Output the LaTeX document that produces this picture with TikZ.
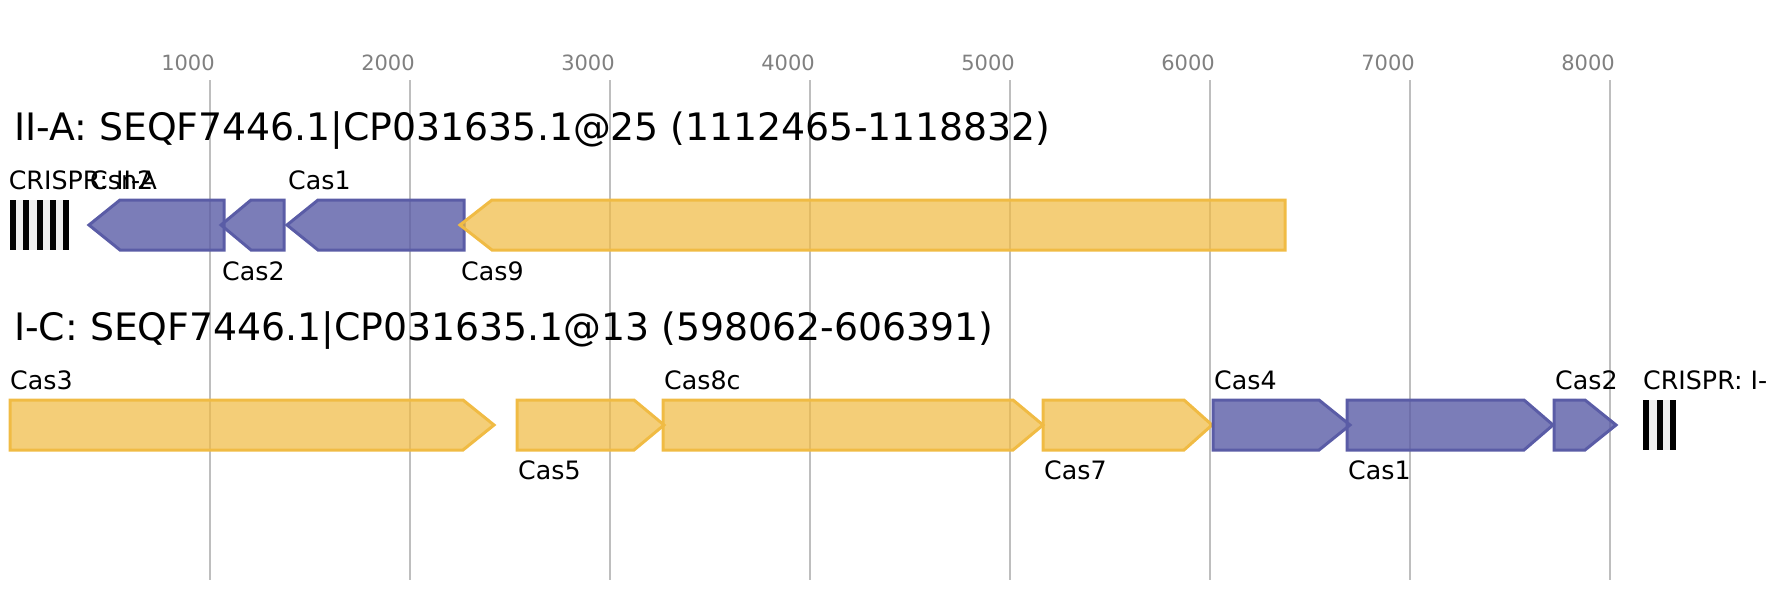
\documentclass[tikz,border=0pt]{standalone}
\usepackage{fontspec}
\setmainfont{DejaVu Sans}
\definecolor{casblue}{RGB}{90,92,166}
\definecolor{casyellow}{RGB}{240,187,68}
\definecolor{gridgrey}{RGB}{190,190,190}
\definecolor{spacergrey}{RGB}{236,236,236}
\tikzset{
  gridline/.style={draw=gridgrey, line width=1.6pt},
  axislabel/.style={anchor=base, inner sep=0pt, text=gray, font=\fontsize{21}{25}\selectfont},
  locustitle/.style={anchor=base west, inner sep=0pt, font=\fontsize{37.8}{45}\selectfont},
  genelabel/.style={anchor=base west, inner sep=0pt, font=\fontsize{25.3}{30}\selectfont},
  genebox/.style={line width=3pt, line join=miter},
  bluegene/.style={genebox, draw=casblue, fill=casblue, fill opacity=0.8},
  yellowgene/.style={genebox, draw=casyellow, fill=casyellow, fill opacity=0.72},
  repeatbar/.style={fill=black}
}

\begin{document}
\begin{tikzpicture}[x=1pt, y=-1pt]
\useasboundingbox (0,0) rectangle (1766,600);

% position axis
\foreach \k in {1,...,8}{
  \draw[gridline] (10+200*\k,80) -- (10+200*\k,580);
  \node[axislabel] (tick\k) at (200*\k-12,70) {\k000};
}

% II-A locus
\node[locustitle] (titleIIA) at (14,140) {II-A: SEQF7446.1|CP031635.1@25 (1112465-1118832)};
\fill[spacergrey] (10,200) rectangle (69.3,250);
\foreach \i in {0,...,4}
  \fill[repeatbar] (10+13.33*\i,200) rectangle ++(6,50);
\draw[bluegene] (89,225) -- (120,200) -- (224,200) -- (224,250) -- (120,250) -- cycle;
\draw[bluegene] (221,225) -- (251,200) -- (284,200) -- (284,250) -- (251,250) -- cycle;
\draw[bluegene] (287,225) -- (318,200) -- (464,200) -- (464,250) -- (318,250) -- cycle;
\draw[yellowgene] (460,225) -- (492,200) -- (1285,200) -- (1285,250) -- (492,250) -- cycle;
\node[genelabel] (crisprIIA) at (8.6,189) {CRISPR: II-A};
\node[genelabel] (csn2) at (90,189) {Csn2};
\node[genelabel] (cas2a) at (222,280) {Cas2};
\node[genelabel] (cas1a) at (288,189) {Cas1};
\node[genelabel] (cas9) at (461,280) {Cas9};

% I-C locus
\node[locustitle] (titleIC) at (14,340) {I-C: SEQF7446.1|CP031635.1@13 (598062-606391)};
\draw[yellowgene] (10,400) -- (463,400) -- (494,425) -- (463,450) -- (10,450) -- cycle;
\draw[yellowgene] (517,400) -- (634,400) -- (664,425) -- (634,450) -- (517,450) -- cycle;
\draw[yellowgene] (663,400) -- (1013,400) -- (1043,425) -- (1013,450) -- (663,450) -- cycle;
\draw[yellowgene] (1043,400) -- (1184,400) -- (1212,425) -- (1184,450) -- (1043,450) -- cycle;
\draw[bluegene] (1213,400) -- (1319,400) -- (1350,425) -- (1319,450) -- (1213,450) -- cycle;
\draw[bluegene] (1347,400) -- (1524,400) -- (1553,425) -- (1524,450) -- (1347,450) -- cycle;
\draw[bluegene] (1554,400) -- (1585,400) -- (1616,425) -- (1585,450) -- (1554,450) -- cycle;
\fill[spacergrey] (1643.3,400) rectangle (1676,450);
\foreach \i in {0,...,2}
  \fill[repeatbar] (1643.3+13.33*\i,400) rectangle ++(6,50);
\node[genelabel] (cas3) at (10,389) {Cas3};
\node[genelabel] (cas5) at (518,479) {Cas5};
\node[genelabel] (cas8c) at (664,389) {Cas8c};
\node[genelabel] (cas7) at (1044,479) {Cas7};
\node[genelabel] (cas4) at (1214,389) {Cas4};
\node[genelabel] (cas1c) at (1348,479) {Cas1};
\node[genelabel] (cas2c) at (1555,389) {Cas2};
\node[genelabel] (crisprIC) at (1643,389) {CRISPR: I-C};
\end{tikzpicture}
\end{document}
